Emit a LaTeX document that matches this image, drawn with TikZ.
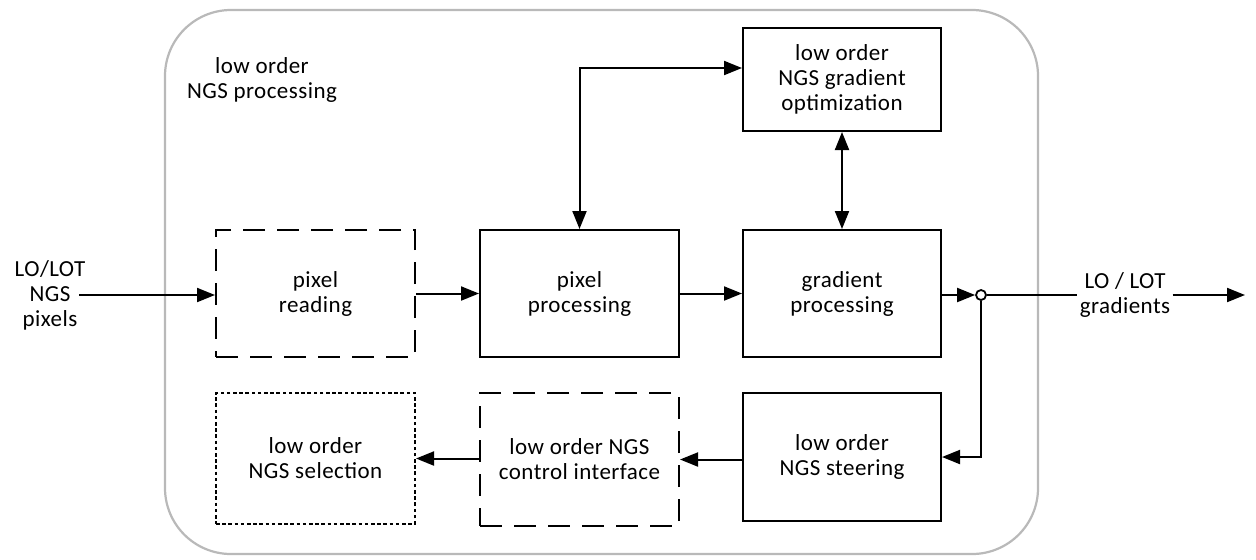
\documentclass[tikz,border=0pt]{standalone}
\usepackage{fontspec}
\setmainfont{Carlito}[LetterSpace=2]
\usetikzlibrary{arrows.meta}
\begin{document}
\begin{tikzpicture}[x=0.5pt,y=-0.5pt,
  font=\fontsize{11.5}{12.5}\selectfont,
  tip/.tip={Triangle[length=9pt,width=7pt]},
  block/.style={draw, line width=1pt, align=center, inner sep=0pt},
  solidbox/.style={block},
  dashbox/.style={block, dash pattern=on 11pt off 6pt},
  dotbox/.style={block, dash pattern=on 1.8pt off 1.3pt},
  flow/.style={line width=1pt, -tip},
  both/.style={line width=1pt, tip-tip},
  plain/.style={line width=1pt},
  lbl/.style={align=center, inner sep=1pt}]
\useasboundingbox (0,0) rectangle (1256,559);

% enclosing processing frame
\draw[gray!55, line width=1.1pt, rounded corners=33pt] (165,10) rectangle (1038,554);
\node[lbl] (title) at (262,80) {low order\\NGS processing};

% processing blocks
\node[dashbox, minimum width=99.5pt, minimum height=63.5pt] (read) at (315.5,293.5) {pixel\\reading};
\node[solidbox, minimum width=99.5pt, minimum height=63.5pt] (proc) at (579.5,293.5) {pixel\\processing};
\node[solidbox, minimum width=99pt, minimum height=63.5pt] (grad) at (842,293.5) {gradient\\processing};
\node[solidbox, minimum width=99pt, minimum height=51.5pt] (opt) at (842,79.5) {low order\\NGS gradient\\optimization};
\node[solidbox, minimum width=99pt, minimum height=64pt] (steer) at (842,457) {low order\\NGS steering};
\node[dashbox, minimum width=99.5pt, minimum height=66.5pt] (ctrl) at (579.5,459.5) {low order NGS\\control interface};
\node[dotbox, minimum width=99.5pt, minimum height=65.5pt] (sel) at (315.5,458.5) {low order\\NGS selection};

% external signals
\node[lbl] (inlab) at (50,295) {LO/LOT\\NGS\\pixels};
\node[lbl] (outlab) at (1125,295) {LO / LOT\\gradients};
\coordinate (inpt) at (79,295);
\coordinate (outend) at (1245,295);

% junction at the gradient output
\node[draw, circle, line width=0.9pt, minimum size=5pt, inner sep=0pt, fill=white] (jn) at (981,295) {};

% connections
\draw[flow] (inpt) -- (read.west |- inpt);
\draw[flow] (read) -- (proc);
\draw[flow] (proc) -- (grad);
\draw[flow] (grad.east |- jn) -- (jn.west);
\draw[plain] (jn.east) -- (outlab.west |- jn);
\draw[flow] (outlab.east |- jn) -- (outend);
\draw[flow] (jn.south) |- (steer.east);
\draw[flow] (steer.west |- ctrl) -- (ctrl.east);
\draw[flow] (ctrl.west |- sel) -- (sel.east);
\coordinate (bend) at (579.5,68);
\draw[both] (proc.north) -- (bend) -- (bend -| opt.west);
\draw[both] (opt.south) -- (grad.north);
\end{tikzpicture}
\end{document}
